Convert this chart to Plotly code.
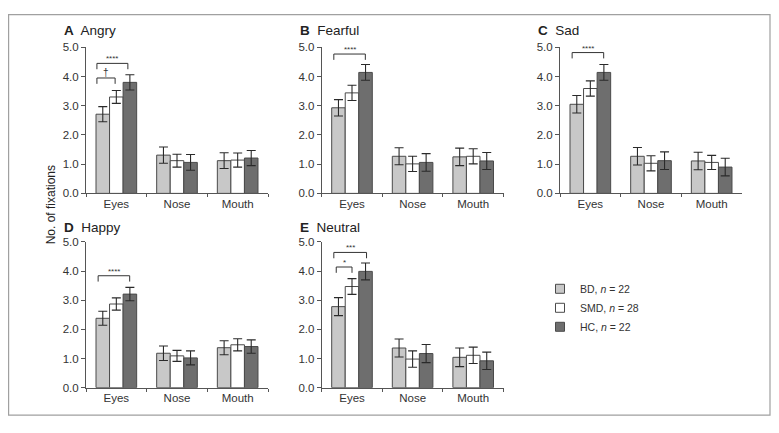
import plotly.graph_objects as go

W, H = 779, 433
OFF = 8  # page body margin in the browser
FW, FH = W - OFF, H - 2 * OFF  # figure size that fits the window without scrolling

regions = ["Eyes", "Nose", "Mouth"]
groups = ["BD", "SMD", "HC"]
group_labels = ["BD, <i>n</i> = 22", "SMD, <i>n</i> = 28", "HC, <i>n</i> = 22"]
group_colors = ["#c8c8c8", "#ffffff", "#6e6e6e"]

panel_letters = ["A", "B", "C", "D", "E"]
emotions = ["Angry", "Fearful", "Sad", "Happy", "Neutral"]

# mean fixations per group (rows: BD, SMD, HC; cols: Eyes, Nose, Mouth)
angry_mean = [[2.71, 1.31, 1.12], [3.30, 1.12, 1.14], [3.80, 1.06, 1.21]]
angry_err = [[0.26, 0.28, 0.27], [0.22, 0.22, 0.24], [0.26, 0.27, 0.26]]
fearful_mean = [[2.93, 1.27, 1.25], [3.44, 1.01, 1.27], [4.14, 1.06, 1.11]]
fearful_err = [[0.28, 0.29, 0.30], [0.26, 0.26, 0.26], [0.27, 0.30, 0.29]]
sad_mean = [[3.05, 1.27, 1.11], [3.59, 1.03, 1.06], [4.14, 1.12, 0.90]]
sad_err = [[0.30, 0.30, 0.30], [0.26, 0.26, 0.24], [0.27, 0.30, 0.30]]
happy_mean = [[2.38, 1.18, 1.37], [2.87, 1.09, 1.47], [3.21, 1.02, 1.41]]
happy_err = [[0.24, 0.25, 0.24], [0.21, 0.19, 0.21], [0.23, 0.24, 0.23]]
neutral_mean = [[2.78, 1.36, 1.04], [3.47, 0.98, 1.11], [3.99, 1.17, 0.92]]
neutral_err = [[0.31, 0.31, 0.32], [0.27, 0.28, 0.28], [0.29, 0.31, 0.30]]

means = [angry_mean, fearful_mean, sad_mean, happy_mean, neutral_mean]
errs = [angry_err, fearful_err, sad_err, happy_err, neutral_err]

# significance brackets per panel: (x_left, x_right, y_top, label)
brackets = [
    [(-0.32, 0.19, 4.45, "****"), (-0.32, -0.02, 3.95, "†")],
    [(-0.30, 0.22, 4.77, "****")],
    [(-0.30, 0.22, 4.82, "****")],
    [(-0.30, 0.22, 3.84, "****")],
    [(-0.30, 0.24, 4.64, "***"), (-0.26, 0.0, 4.14, "*")],
]


def px(x):
    return (x - OFF) / FW


def py(y):
    return 1 - (y - OFF) / FH


# panel boxes in pixels: x axis start/end, y of 0 and y of 5
col_x = [(86, 268), (321.7, 503.5), (560, 742)]
row_y = [(192.7, 42.3), (392.7, 242.7)]
title_y = [25, 228]
panel_pos = [(0, 0), (1, 0), (2, 0), (0, 1), (1, 1)]

fig = go.Figure()
font = "Liberation Sans, Arial, sans-serif"
axis_col = "#555555"
text_col = "#333333"
edge_col = "#4a4a4a"

for p in range(5):
    c, r = panel_pos[p]
    xs = "" if p == 0 else str(p + 1)
    for g in range(3):
        fig.add_trace(go.Bar(
            x=regions, y=means[p][g],
            name=group_labels[g], legendgroup=groups[g], showlegend=False,
            marker=dict(color=group_colors[g], line=dict(color=edge_col, width=1)),
            error_y=dict(type="data", array=errs[p][g], color="#2a2a2a", thickness=1.1, width=4.5),
            xaxis="x" + xs, yaxis="y" + xs,
        ))
    x0, x1 = col_x[c]
    y0, y5 = row_y[r]
    fig.layout["xaxis" + xs] = dict(
        domain=[px(x0), px(x1)], anchor="y" + xs, type="category",
        showline=True, linecolor=axis_col, linewidth=1,
        ticks="outside", ticklen=3, tickcolor=axis_col, tickson="boundaries",
        tickfont=dict(size=11.5, color=text_col, family=font),
        showgrid=False, zeroline=False, fixedrange=True,
    )
    fig.layout["yaxis" + xs] = dict(
        domain=[py(y0), py(y5)], anchor="x" + xs, range=[0, 5],
        dtick=1, tickformat=".1f", showline=True, linecolor=axis_col, linewidth=1,
        ticks="outside", ticklen=4, tickcolor=axis_col,
        tickfont=dict(size=11.5, color=text_col, family=font),
        showgrid=False, zeroline=False, fixedrange=True,
    )
    # panel title
    fig.add_annotation(
        x=px(x0 - 24), y=py(title_y[r]), xref="paper", yref="paper",
        xanchor="left", yanchor="middle", showarrow=False,
        text="<b>" + panel_letters[p] + "</b>  " + emotions[p],
        font=dict(size=13.5, color="#222222", family=font),
    )
    # significance brackets
    for bx0, bx1, by, lab in brackets[p]:
        fig.add_shape(
            type="path", xref="x" + xs, yref="y" + xs,
            path="M %f,%f L %f,%f L %f,%f L %f,%f" % (bx0, by - 0.2, bx0, by, bx1, by, bx1, by - 0.2),
            line=dict(color="#333333", width=1),
        )
        fig.add_annotation(
            x=(bx0 + bx1) / 2, y=by, xref="x" + xs, yref="y" + xs,
            yanchor="bottom", showarrow=False, text=lab, yshift=-2,
            font=dict(size=8 if lab != "†" else 10, color="#333333", family=font),
        )

# legend entries with small square swatches
for g in range(3):
    fig.add_trace(go.Scatter(
        x=[None], y=[None], mode="markers", name=group_labels[g], legendgroup=groups[g],
        marker=dict(symbol="square", size=9, color=group_colors[g], line=dict(color=edge_col, width=1)),
    ))

# y axis title
fig.add_annotation(
    x=px(42), y=py(205), xref="paper", yref="paper", textangle=-90,
    showarrow=False, text="No. of fixations",
    font=dict(size=12, color="#222222", family=font),
)

# outer frame (left/top edge sit at the very edge of the figure)
fig.add_shape(type="rect", xref="paper", yref="paper",
              x0=px(8.6), x1=px(770), y0=py(421), y1=py(8.6),
              line=dict(color="#a0a0a0", width=1.2))

fig.update_layout(
    width=FW, height=FH, margin=dict(l=0, r=0, t=0, b=0),
    paper_bgcolor="white", plot_bgcolor="white",
    barmode="group", bargap=0.33, bargroupgap=0,
    font=dict(family=font, color=text_col),
    legend=dict(x=px(540), y=py(276), xanchor="left", yanchor="top",
                font=dict(size=10.5, color="#333333", family=font),
                itemwidth=30, tracegroupgap=0, bgcolor="rgba(0,0,0,0)"),
)

fig.write_html("out.html")
